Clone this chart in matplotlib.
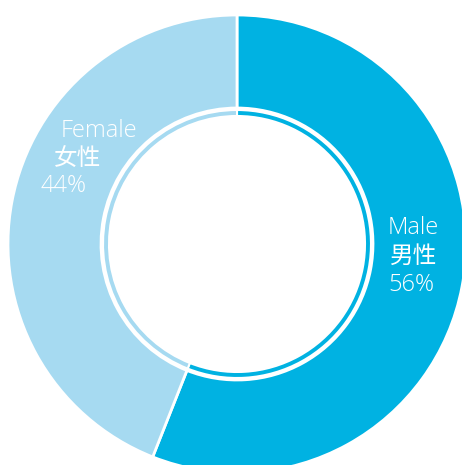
import matplotlib
matplotlib.use('Agg')
from matplotlib import pyplot as plt

labels = ['Male', 'Female']
labels_cn = ['男性', '女性']
shares = [56, 44]
colors = ['#00b2e2', '#a6daf1']

W, H = 462, 465
CX, CY = 237, H - 244
R_OUT = 229
R_MID = 136
R_IN = 128

fig = plt.figure(figsize=(W / 100, H / 100), dpi=100)
ax = fig.add_axes([0, 0, 1, 1])
ax.set_xlim(0, W)
ax.set_ylim(0, H)
ax.set_aspect('equal')
ax.axis('off')

ax.pie(shares, colors=colors, startangle=90, counterclock=False,
       radius=R_OUT, center=(CX, CY),
       wedgeprops=dict(width=R_OUT - R_MID, edgecolor='white', linewidth=2))
ax.pie(shares, colors=colors, startangle=90, counterclock=False,
       radius=R_MID - 2, center=(CX, CY),
       wedgeprops=dict(width=R_MID - 2 - R_IN, edgecolor='white', linewidth=1.5))
ax.set_xlim(0, W)
ax.set_ylim(0, H)

fam = ['Open Sans', 'Noto Sans CJK SC', 'DejaVu Sans']
cn = ['Noto Sans CJK SC', 'DejaVu Sans']
txt = dict(color='white', fontsize=17, ha='left', va='center')

# Male
ax.text(388, H - 228, labels[0], family=fam, fontweight='light', **txt)
ax.text(390, H - 256, labels_cn[0], family=cn, fontweight='medium', **txt)
ax.text(388, H - 285, f'{shares[0]}%', family=fam, fontweight='light', **txt)

# Female
ax.text(61, H - 131, labels[1], family=fam, fontweight='light', **txt)
ax.text(54, H - 158, labels_cn[1], family=cn, **txt)
ax.text(41, H - 186, f'{shares[1]}%', family=fam, fontweight='light', **txt)

fig.savefig('out.png', dpi=100)
